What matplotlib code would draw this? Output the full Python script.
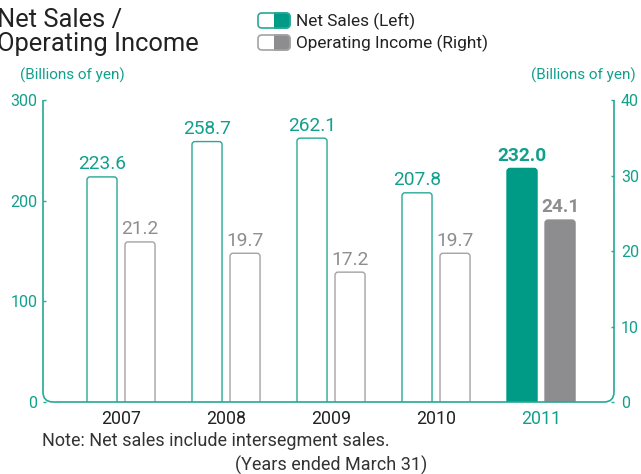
import matplotlib
matplotlib.use("Agg")
import matplotlib.pyplot as plt
from matplotlib.patches import FancyBboxPatch, PathPatch, Rectangle
from matplotlib.path import Path
from matplotlib.transforms import IdentityTransform

plt.rcParams['font.family'] = ['Roboto', 'DejaVu Sans']

years = ["2007", "2008", "2009", "2010", "2011"]
net_sales = [223.6, 258.7, 262.1, 207.8, 232.0]
operating_income = [21.2, 19.7, 17.2, 19.7, 24.1]
left_ticks = [0, 100, 200, 300]
right_ticks = [0, 10, 20, 30, 40]

TEAL = "#009B87"
TEAL_LINE = "#26A995"
TEAL_TEXT = "#12A08C"
GRAY = "#8D8D8F"
GRAY_LINE = "#A3A3A3"
GRAY_TEXT = "#8E8E8E"
DARK = "#222222"

W, H = 641, 474
fig = plt.figure(figsize=(W / 100, H / 100), dpi=100)

# plot area in pixels
X0, X1, YT, YB = 43, 614, 100, 402
ax = fig.add_axes([X0 / W, (H - YB) / H, (X1 - X0) / W, (YB - YT) / H])
ax2 = ax.twinx()
ax.set_xlim(-0.743, 4.695)
ax.set_ylim(0, 300)
ax2.set_ylim(0, 40)
for a in (ax, ax2):
    for s in a.spines.values():
        s.set_visible(False)

bar_w = 0.286
off = 0.181


def rounded_bar(axis, xc, h, face, edge, r_px=3.0, lw=1.0):
    x_lo, x_hi = axis.get_xlim()
    y_lo, y_hi = axis.get_ylim()
    sx = (X1 - X0) / (x_hi - x_lo)
    sy = (YB - YT) / (y_hi - y_lo)
    r = r_px / sx
    ry = r_px / sy
    p = FancyBboxPatch((xc - bar_w / 2, -2 * ry), bar_w, h + 2 * ry,
                       boxstyle=f"round,pad=0,rounding_size={r}",
                       mutation_aspect=ry / r,
                       facecolor=face, edgecolor=edge, linewidth=lw)
    axis.add_patch(p)


last = len(years) - 1
for i, (ns, oi) in enumerate(zip(net_sales, operating_income)):
    hl = i == last
    rounded_bar(ax, i - off, ns, TEAL if hl else "white", TEAL if hl else TEAL_LINE)
    rounded_bar(ax2, i + off, oi, GRAY if hl else "white", GRAY if hl else GRAY_LINE)
    ax.annotate(f"{ns:.1f}", (i - off, ns), xytext=(0, 5.5), textcoords="offset points",
                ha="center", va="baseline", fontsize=13.8, color=TEAL_TEXT,
                fontweight="bold" if hl else "normal")
    ax2.annotate(f"{oi:.1f}", (i + off, oi), xytext=(0, 5.5), textcoords="offset points",
                 ha="center", va="baseline", fontsize=13.8, color=GRAY_TEXT,
                 fontweight="bold" if hl else "normal")

ax.set_xticks(range(len(years)))
ax.set_xticklabels(years)
ax.tick_params(axis="x", length=0, pad=6, labelsize=12.8, labelcolor=DARK)
ax.get_xticklabels()[-1].set_color(TEAL_TEXT)

ax.set_yticks(left_ticks)
ax.tick_params(axis="y", direction="in", length=2.5, width=1, color=TEAL_LINE,
               labelcolor=TEAL_TEXT, labelsize=11.5, pad=4)
ax2.set_yticks(right_ticks)
ax2.tick_params(axis="y", direction="in", length=2.5, width=1, color=TEAL_LINE,
                labelcolor=TEAL_TEXT, labelsize=11.5, pad=5)

# frame: two vertical axes joined by a bottom line with rounded corners
r = 10
yt, yb = H - YT, H - YB
verts = [(X0, yt), (X0, yb + r), (X0, yb), (X0 + r, yb), (X1 - r, yb),
         (X1, yb), (X1, yb + r), (X1, yt)]
codes = [Path.MOVETO, Path.LINETO, Path.CURVE3, Path.CURVE3, Path.LINETO,
         Path.CURVE3, Path.CURVE3, Path.LINETO]
fig.add_artist(PathPatch(Path(verts, codes), transform=IdentityTransform(),
                         facecolor="none", edgecolor=TEAL_LINE, linewidth=1.2,
                         zorder=5, capstyle="butt", joinstyle="round"))


def px_text(x, y, s, **kw):
    fig.text(x / W, 1 - y / H, s, **kw)


# title
px_text(-3, 27, "Net Sales /", fontsize=18.4, color=DARK, va="baseline")
px_text(-3, 51, "Operating Income", fontsize=18.4, color=DARK, va="baseline")

# legend swatches
def swatch(y_top, fill, line):
    x, w, h = 258, 32, 15
    base = H - y_top - h
    clip = Rectangle((x + w / 2, base - 2), w, h + 4, transform=IdentityTransform())
    solid = FancyBboxPatch((x, base), w, h, boxstyle="round,pad=0,rounding_size=4",
                           transform=IdentityTransform(), facecolor=fill,
                           edgecolor=fill, linewidth=1)
    fig.add_artist(solid)
    solid.set_clip_path(clip)
    fig.add_artist(FancyBboxPatch((x, base), w, h, boxstyle="round,pad=0,rounding_size=4",
                                  transform=IdentityTransform(), facecolor="none",
                                  edgecolor=line, linewidth=1.2))


swatch(13, TEAL, TEAL_LINE)
swatch(35, GRAY, GRAY_LINE)
px_text(296, 21, "Net Sales (Left)", fontsize=12.4, color=DARK, va="center")
px_text(296, 43, "Operating Income (Right)", fontsize=12.4, color=DARK, va="center")

px_text(20, 75, "(Billions of yen)", fontsize=11, color=TEAL_TEXT, va="center")
px_text(636, 75, "(Billions of yen)", fontsize=11, color=TEAL_TEXT, va="center", ha="right")

px_text(42, 441, "Note: Net sales include intersegment sales.", fontsize=13, color="#333333", va="center")
px_text(331, 465, "(Years ended March 31)", fontsize=13, color="#333333", va="center", ha="center")

fig.savefig("out.png", dpi=100)
